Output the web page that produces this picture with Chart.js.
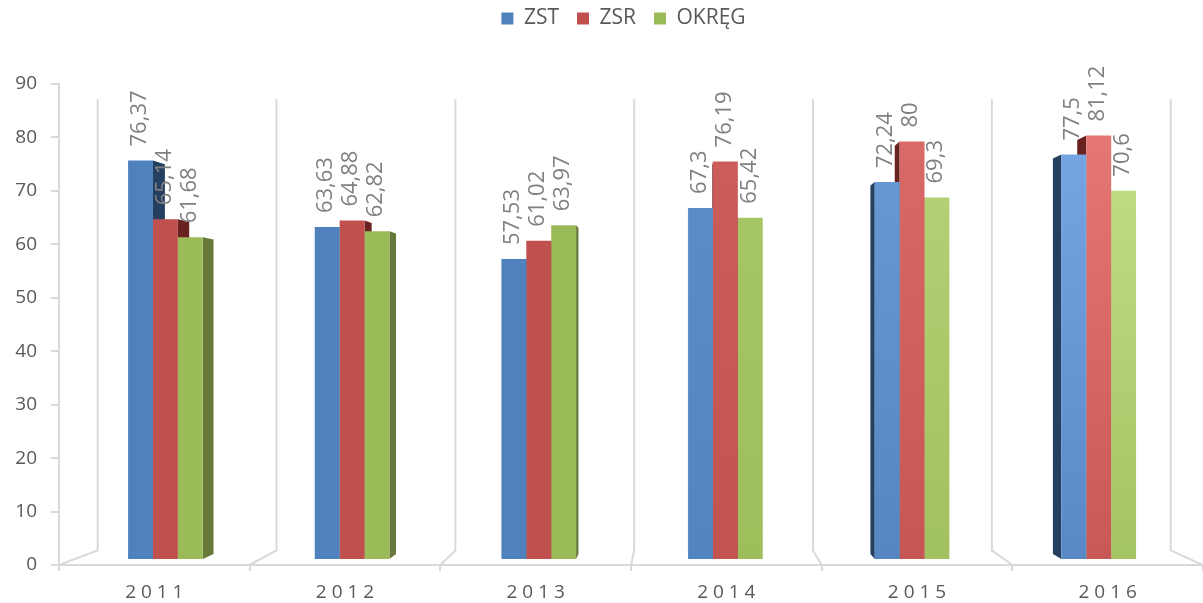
<!DOCTYPE html>
<html><head><meta charset="utf-8">
<script src="https://cdn.jsdelivr.net/npm/chart.js@4.4.1/dist/chart.umd.min.js"></script>
<style>html,body{margin:0;padding:0;background:#fff;}#wrap{width:1203px;height:603px;position:relative;}</style>
</head><body><div id="wrap"><canvas id="c"></canvas></div>
<script>
// ---- data ----
const categories = ['2011', '2012', '2013', '2014', '2015', '2016'];
const seriesNames = ['ZST', 'ZSR', 'OKRĘG'];
const zst   = [76.37, 63.63, 57.53, 67.3, 72.24, 77.5];
const zsr   = [65.14, 64.88, 61.02, 76.19, 80, 81.12];
const okreg = [61.68, 62.82, 63.97, 65.42, 69.3, 70.6];
const yMin = 0, yMax = 90, yStep = 10;

// ---- style ----
const baseColors = ['#4f81bd', '#c0504d', '#9bbb59'];
const lightColors = ['#7aaae6', '#e87a78', '#c6e28a'];
const faceColors = ['#253f60', '#6a2220', '#67793a'];
const textGray = '#595959', labelGray = '#808080', lineGray = '#d9d9d9';
const FONT = "'Open Sans', 'DejaVu Sans', sans-serif";
const LEGEND_TOP = -10;   // layout padding top
const LEGEND_BLOCK = 84;  // canvas y where the plot area starts
const LEGEND_SHIFT = 18;  // legend is slightly right of centre

// perspective parameters (fractions of chart area / depth)
const V_X = 0.545, V_Y = 0.51, D_FRONT = 0.021, D_BACK = 0.043, D_WALL = 0.062;
function vanish(chart) {
  const a = chart.chartArea;
  return { vx: a.left + (a.right - a.left) * V_X, vy: a.top + (a.bottom - a.top) * V_Y };
}
function proj(x, y, d, v) { return [x + (v.vx - x) * d, y + (v.vy - y) * d]; }

function hexToRgb(h) { const n = parseInt(h.slice(1), 16); return [(n >> 16) & 255, (n >> 8) & 255, n & 255]; }
function mix(a, b, t) {
  const A = hexToRgb(a), B = hexToRgb(b);
  return 'rgb(' + A.map((c, i) => Math.round(c + (B[i] - c) * t)).join(',') + ')';
}
function barColor(si) {
  return function (ctx) {
    if (ctx.type !== 'data') return baseColors[si];
    const chart = ctx.chart, area = chart.chartArea;
    if (!area) return baseColors[si];
    const t = Math.max(0, (ctx.dataIndex - 2) / 3);
    const g = chart.ctx.createLinearGradient(0, area.top, 0, area.bottom);
    g.addColorStop(0, mix(baseColors[si], lightColors[si], t));
    g.addColorStop(1, mix(baseColors[si], lightColors[si], t * 0.2));
    return g;
  };
}

const legendSpace = {
  id: 'legendSpace',
  afterInit(chart) {
    const lg = chart.legend;
    if (!lg || lg.$patched) return;
    const orig = lg.fit.bind(lg);
    lg.fit = function () { orig(); this.height = Math.max(this.height, LEGEND_BLOCK - LEGEND_TOP); };
    lg.$patched = true;
  },
  afterLayout(chart) {
    const lg = chart.legend;
    if (lg) { lg.left += LEGEND_SHIFT; lg.right += LEGEND_SHIFT; }
  }
};

const perspective = {
  id: 'perspective',
  afterDatasetsUpdate(chart) {
    const v = vanish(chart);
    chart.data.datasets.forEach((ds, i) => {
      chart.getDatasetMeta(i).data.forEach(el => {
        const o = { x: el.x, y: el.y, base: el.base, width: el.width };
        el.$orig = o;
        const p = proj(o.x, o.y, D_FRONT, v);
        el.x = p[0]; el.y = p[1];
        el.base = proj(o.x, o.base, D_FRONT, v)[1];
        el.width = o.width * (1 - D_FRONT);
      });
    });
  },
  beforeDatasetsDraw(chart) {
    const ctx = chart.ctx, v = vanish(chart), xs = chart.scales.x, ys = chart.scales.y;
    const n = chart.data.labels.length;
    const step = (xs.right - xs.left) / n;
    const y0 = ys.getPixelForValue(yMin), yT = ys.getPixelForValue(yMax);
    ctx.save();
    ctx.strokeStyle = lineGray; ctx.lineWidth = 2;
    for (let i = 0; i <= n; i++) {
      const bx = xs.left + i * step;
      const b = proj(bx, y0, D_WALL, v), t = proj(bx, yT, D_WALL, v);
      ctx.beginPath(); ctx.moveTo(bx, y0); ctx.lineTo(b[0], b[1]); ctx.lineTo(t[0], t[1]); ctx.stroke();
    }
    // side faces
    chart.data.datasets.forEach((ds, si) => {
      chart.getDatasetMeta(si).data.forEach(el => {
        const o = el.$orig; if (!o) return;
        const L = o.x - o.width / 2, R = o.x + o.width / 2;
        let E = null;
        if (proj(R, o.y, D_FRONT, v)[0] < v.vx - 1) E = R;
        else if (proj(L, o.y, D_FRONT, v)[0] > v.vx + 1) E = L;
        ctx.fillStyle = faceColors[si];
        if (E !== null) {
          const a = proj(E, o.y, D_FRONT, v), b = proj(E, o.y, D_BACK, v),
                c = proj(E, o.base, D_BACK, v), d = proj(E, o.base, D_FRONT, v);
          ctx.beginPath(); ctx.moveTo(a[0], a[1]); ctx.lineTo(b[0], b[1]); ctx.lineTo(c[0], c[1]); ctx.lineTo(d[0], d[1]); ctx.closePath(); ctx.fill();
        }
      });
    });
    ctx.restore();
  },
  afterDatasetsDraw(chart) {
    const ctx = chart.ctx;
    ctx.save();
    ctx.fillStyle = labelGray;
    ctx.font = '22px ' + FONT;
    ctx.textAlign = 'left'; ctx.textBaseline = 'middle';
    chart.data.datasets.forEach((ds, si) => {
      chart.getDatasetMeta(si).data.forEach((el, i) => {
        const txt = String(ds.data[i]).replace('.', ',');
        ctx.save();
        ctx.translate(el.x - 1, el.y - 14);
        ctx.rotate(-Math.PI / 2);
        ctx.fillText(txt, 0, 0);
        ctx.restore();
      });
    });
    ctx.restore();
  }
};

const seriesData = [zst, zsr, okreg];
new Chart(document.getElementById('c'), {
  type: 'bar',
  data: {
    labels: categories,
    datasets: seriesNames.map((name, si) => ({
      label: name,
      data: seriesData[si],
      backgroundColor: barColor(si),
      borderWidth: 0,
      categoryPercentage: 0.4,
      barPercentage: 1.0
    }))
  },
  options: {
    responsive: true,
    maintainAspectRatio: false,
    animation: false,
    layout: { padding: { top: LEGEND_TOP, right: -8, left: 0, bottom: 0 } },
    plugins: {
      tooltip: { enabled: false },
      legend: {
        position: 'top',
        labels: {
          boxWidth: 12, boxHeight: 12, padding: 18, color: textGray,
          font: { size: 21, family: FONT },
          generateLabels(chart) {
            return chart.data.datasets.map((ds, i) => ({
              text: ds.label, fillStyle: baseColors[i], strokeStyle: baseColors[i],
              lineWidth: 0, hidden: false, datasetIndex: i, fontColor: textGray
            }));
          }
        }
      }
    },
    scales: {
      x: {
        offset: true,
        grid: { offset: true, drawOnChartArea: false, drawTicks: true, tickLength: 6, color: lineGray, lineWidth: 2 },
        border: { color: lineGray, width: 2 },
        ticks: {
          color: textGray, font: { size: 19, family: FONT }, padding: 10,
          callback(val) { return this.getLabelForValue(val).split('').join(' '); }
        },
        afterFit(s) { s.height = 38; }
      },
      y: {
        min: yMin, max: yMax,
        grid: { drawOnChartArea: false, drawTicks: true, tickLength: 8, color: lineGray, lineWidth: 2 },
        border: { color: lineGray, width: 2 },
        ticks: { stepSize: yStep, color: textGray, font: { size: 19, family: FONT }, padding: 14 },
        afterFit(s) { s.width = 59; }
      }
    }
  },
  plugins: [legendSpace, perspective]
});
</script>
</body></html>
